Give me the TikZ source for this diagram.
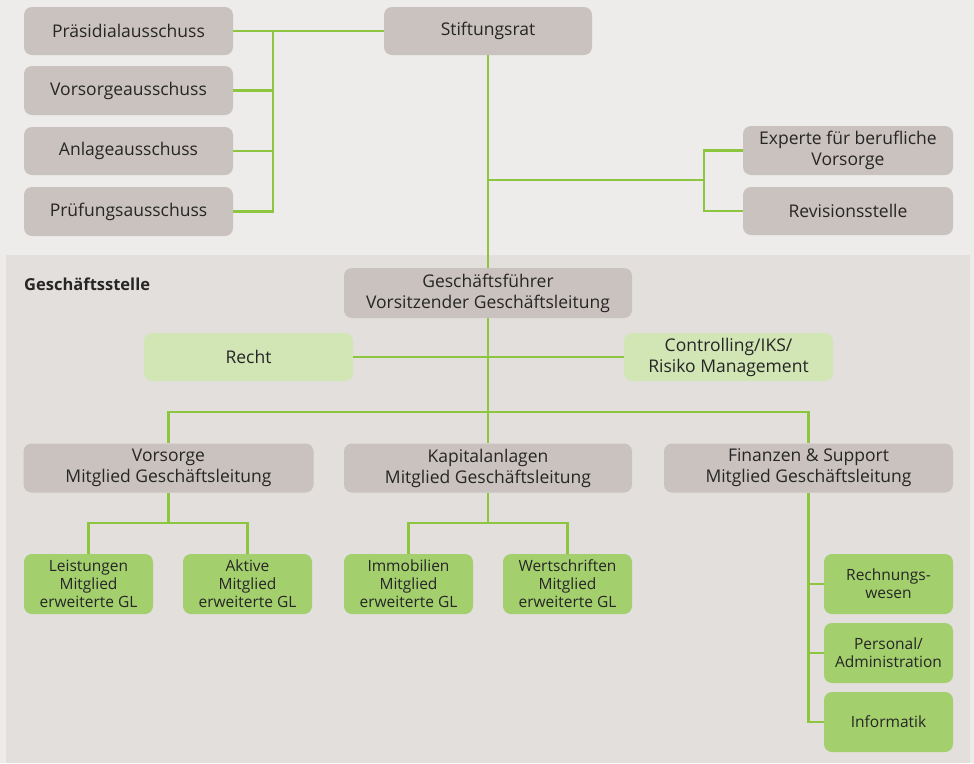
\documentclass[tikz,border=0pt]{standalone}
\usepackage{fontspec}
\setmainfont{Open Sans}
\usetikzlibrary{calc}

\definecolor{bgtop}{HTML}{EDECEA}
\definecolor{bgpanel}{HTML}{E3DFDC}
\definecolor{boxgray}{HTML}{C9C2BE}
\definecolor{boxlight}{HTML}{D1E5B5}
\definecolor{boxgreen}{HTML}{A3CF6D}
\definecolor{linegreen}{HTML}{8CC63F}

\begin{document}
\begin{tikzpicture}[x=1pt,y=-1pt,
  orgbox/.style={rounded corners=8pt,fill=boxgray,align=center,inner sep=0pt,
    text=black!85,font=\fontsize{17.5}{21}\selectfont},
  stabbox/.style={orgbox,fill=boxlight},
  unitbox/.style={orgbox,fill=boxgreen,minimum width=129pt,minimum height=60pt,
    font=\fontsize{15.5}{18}\selectfont},
  link/.style={linegreen,line width=2.5pt}]

% background
\fill [bgtop] (0,0) rectangle (974,763);
\fill [bgpanel] (6,255) rectangle (970,763);
\useasboundingbox (0,0) rectangle (974,763);

% Stiftungsrat and committees
\node [orgbox,minimum width=209pt,minimum height=48pt] (praes) at (128.5,31) {Präsidialausschuss};
\node [orgbox,minimum width=209pt,minimum height=49pt] (vors) at (128.5,90.5) {Vorsorgeausschuss};
\node [orgbox,minimum width=209pt,minimum height=48pt] (anlage) at (128.5,151) {Anlageausschuss};
\node [orgbox,minimum width=209pt,minimum height=49pt] (pruef) at (128.5,211.5) {Prüfungsausschuss};
\node [orgbox,minimum width=208pt,minimum height=48pt] (stift) at (488,31) {Stiftungsrat};
\node [orgbox,minimum width=210pt,minimum height=49pt] (experte) at (848,150.5) {Experte für berufliche\\Vorsorge};
\node [orgbox,minimum width=210pt,minimum height=48pt] (revision) at (848,211) {Revisionsstelle};

% Geschaeftsstelle
\node [anchor=west,inner sep=0pt,text=black!85,font=\fontsize{16.5}{18}\selectfont\bfseries] (gs) at (24,284) {Geschäftsstelle};
\node [orgbox,minimum width=288pt,minimum height=50pt] (gf) at (488,293) {Geschäftsführer\\Vorsitzender Geschäftsleitung};
\node [stabbox,minimum width=209pt,minimum height=48pt] (recht) at (248.5,357) {Recht};
\node [stabbox,minimum width=209pt,minimum height=48pt] (contr) at (728.5,357) {Controlling/IKS/\\Risiko Management};

\node [orgbox,minimum width=290pt,minimum height=49pt] (vorsorge) at (168.5,468) {Vorsorge\\Mitglied Geschäftsleitung};
\node [orgbox,minimum width=288pt,minimum height=49pt] (kapital) at (488,468) {Kapitalanlagen\\Mitglied Geschäftsleitung};
\node [orgbox,minimum width=289pt,minimum height=49pt] (finanz) at (808.5,468) {Finanzen \& Support\\Mitglied Geschäftsleitung};

\node [unitbox] (leist) at (88.5,584) {Leistungen\\Mitglied\\erweiterte GL};
\node [unitbox] (aktiv) at (247.5,584) {Aktive\\Mitglied\\erweiterte GL};
\node [unitbox] (immo) at (408.5,584) {Immobilien\\Mitglied\\erweiterte GL};
\node [unitbox] (wert) at (567.5,584) {Wertschriften\\Mitglied\\erweiterte GL};
\node [unitbox] (rechn) at (888.5,584) {Rechnungs-\\wesen};
\node [unitbox] (pers) at (888.5,653) {Personal/\\Administration};
\node [unitbox] (info) at (888.5,722) {Informatik};

% bus points
\coordinate (bus) at (273,31);
\coordinate (stab) at (488,180);
\coordinate (revbus) at (704,180);
\coordinate (gl) at (488,412);
\coordinate (vsbus) at (168.5,523);
\coordinate (kabus) at (488,523);

% connectors
\draw [link] (praes.east) -- (stift.west);
\draw [link] (vors.east) -| (bus);
\draw [link] (anlage.east) -| (bus);
\draw [link] (pruef.east) -| (bus);
\draw [link] (stift.south) -- (gf.north);
\draw [link] (stab) -- (revbus);
\draw [link] (experte.west) -| (revbus);
\draw [link] (revision.west) -| (revbus);
\draw [link] (recht.east) -- (contr.west);
\draw [link] (gf.south) -- (gl);
\draw [link] (vorsorge.north) |- (gl) -| (finanz.north);
\draw [link] (kapital.north) -- (gl);
\draw [link] (vorsorge.south) -- (vsbus);
\draw [link] (leist.north) |- (vsbus) -| (aktiv.north);
\draw [link] (kapital.south) -- (kabus);
\draw [link] (immo.north) |- (kabus) -| (wert.north);
\draw [link] (finanz.south) |- (info.west);
\draw [link] (rechn.west) -- (rechn.west -| finanz.south);
\draw [link] (pers.west) -- (pers.west -| finanz.south);

\end{tikzpicture}
\end{document}
